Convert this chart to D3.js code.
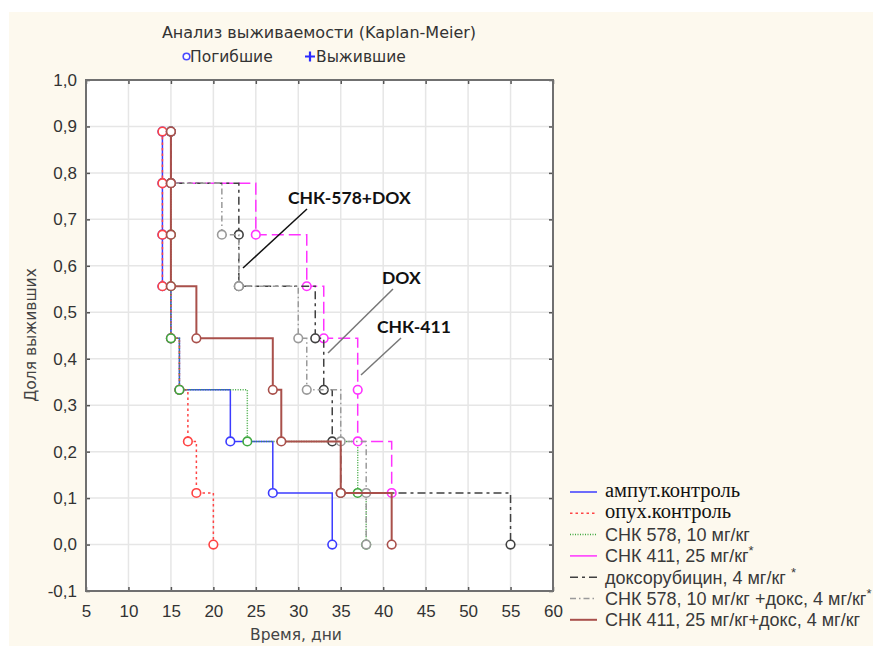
<!DOCTYPE html>
<html>
<head>
<meta charset="utf-8">
<script src="https://cdn.jsdelivr.net/npm/d3@7"></script>
<style>
  body { margin: 0; background: #fff; }
  svg { display: block; }
</style>
</head>
<body>
<svg id="chart"></svg>
<script>
// ---- data (death times, survival after each death) ----
let timesAmput = [14, 14, 14, 14, 15, 16, 22, 27, 34];
let survAmput = [0.889, 0.778, 0.667, 0.556, 0.444, 0.333, 0.222, 0.111, 0.0];

let timesOpuh = [14, 14, 14, 14, 15, 16, 17, 18, 20];
let survOpuh = [0.889, 0.778, 0.667, 0.556, 0.444, 0.333, 0.222, 0.111, 0.0];

let timesChk578 = [15, 15, 15, 15, 15, 16, 24, 37, 38];
let survChk578 = [0.889, 0.778, 0.667, 0.556, 0.444, 0.333, 0.222, 0.111, 0.0];

let timesChk411 = [15, 15, 25, 31, 33, 37, 37, 41];
let survChk411 = [0.889, 0.778, 0.667, 0.556, 0.444, 0.333, 0.222, 0.111];

let timesDox = [15, 15, 23, 23, 32, 33, 34, 35, 55];
let survDox = [0.889, 0.778, 0.667, 0.556, 0.444, 0.333, 0.222, 0.111, 0.0];

let timesChk578Dox = [15, 15, 21, 23, 30, 31, 35, 38, 38];
let survChk578Dox = [0.889, 0.778, 0.667, 0.556, 0.444, 0.333, 0.222, 0.111, 0.0];

let timesChk411Dox = [15, 15, 15, 15, 18, 27, 28, 35, 41];
let survChk411Dox = [0.889, 0.778, 0.667, 0.556, 0.444, 0.333, 0.222, 0.111, 0.0];

let xTicks = [5, 10, 15, 20, 25, 30, 35, 40, 45, 50, 55, 60];
let yTicks = [-0.1, 0.0, 0.1, 0.2, 0.3, 0.4, 0.5, 0.6, 0.7, 0.8, 0.9, 1.0];

let seriesNames = ["ампут.контроль", "опух.контроль", "СНК 578, 10 мг/кг", "СНК 411, 25 мг/кг",
  "доксорубицин, 4 мг/кг ", "СНК 578, 10 мг/кг +докс, 4 мг/кг", "СНК 411, 25 мг/кг+докс, 4 мг/кг"];
let seriesStar = [false, false, false, true, true, true, false];

let annotations = ["СНК-578+DOX", "DOX", "СНК-411"];

// ---- setup ----
let width = 873;
let height = 646;
let sans = "'Liberation Sans', Arial, sans-serif";
let wide = "'DejaVu Sans', Verdana, sans-serif";

let svg = d3.select("#chart")
    .attr("width", width)
    .attr("height", height);

// cream page background
svg.append("rect")
    .attr("x", 9).attr("y", 12)
    .attr("width", width - 9).attr("height", height - 12)
    .attr("fill", "#fdf9ee");

let scaleX = d3.scaleLinear().domain([5, 60]).range([86, 553]);
let scaleY = d3.scaleLinear().domain([-0.1, 1.0]).range([591, 80]);

// plot area
svg.append("rect")
    .attr("x", scaleX(5)).attr("y", scaleY(1))
    .attr("width", scaleX(60) - scaleX(5))
    .attr("height", scaleY(-0.1) - scaleY(1))
    .attr("fill", "#fff");

// grid
svg.append("g").selectAll("line").data(xTicks.slice(1, -1)).join("line")
    .attr("x1", d => scaleX(d)).attr("x2", d => scaleX(d))
    .attr("y1", scaleY(1)).attr("y2", scaleY(-0.1))
    .attr("stroke", "#e6e6e6").attr("stroke-width", 1.5);
svg.append("g").selectAll("line").data(yTicks.slice(1, -1)).join("line")
    .attr("y1", d => scaleY(d)).attr("y2", d => scaleY(d))
    .attr("x1", scaleX(5)).attr("x2", scaleX(60))
    .attr("stroke", "#e6e6e6").attr("stroke-width", 1.5);

let fmt = d => d3.format(".1f")(d).replace(".", ",").replace("−", "-");

let axisX = d3.axisBottom(scaleX).tickValues(xTicks).tickSize(-4).tickPadding(14).tickFormat(d => d);
let axisY = d3.axisLeft(scaleY).tickValues(yTicks).tickSize(-4).tickPadding(9).tickFormat(fmt);

function styleAxis(g) {
    g.select(".domain").remove();
    g.selectAll(".tick line").attr("stroke", "#555").attr("stroke-width", 1.5);
    g.selectAll(".tick text")
        .attr("fill", "#333")
        .style("font-family", sans)
        .style("font-size", "17px");
}

svg.append("g").attr("transform", `translate(0, ${scaleY(-0.1)})`).call(axisX).call(styleAxis);
svg.append("g").attr("transform", `translate(${scaleX(5)}, 0)`).call(axisY).call(styleAxis);
// ticks on top and right (inner)
svg.append("g").attr("transform", `translate(0, ${scaleY(1)})`)
    .call(d3.axisTop(scaleX).tickValues(xTicks).tickSize(-4).tickFormat(""))
    .call(styleAxis);
svg.append("g").attr("transform", `translate(${scaleX(60)}, 0)`)
    .call(d3.axisRight(scaleY).tickValues(yTicks).tickSize(-4).tickFormat(""))
    .call(styleAxis);

// frame
svg.append("rect")
    .attr("x", scaleX(5)).attr("y", scaleY(1))
    .attr("width", scaleX(60) - scaleX(5))
    .attr("height", scaleY(-0.1) - scaleY(1))
    .attr("fill", "none").attr("stroke", "#707070").attr("stroke-width", 2);

// axis titles
svg.append("text")
    .attr("transform", `translate(36, 335) rotate(-90)`)
    .attr("text-anchor", "middle")
    .attr("fill", "#444")
    .style("font-family", wide)
    .style("font-size", "15.5px")
    .text("Доля выживших");

svg.append("text")
    .attr("x", 296).attr("y", 640)
    .attr("text-anchor", "middle")
    .attr("fill", "#444")
    .style("font-family", wide)
    .style("font-size", "15.5px")
    .text("Время, дни");

// title + marker legend
svg.append("text")
    .attr("x", 319).attr("y", 38)
    .attr("text-anchor", "middle")
    .attr("fill", "#333")
    .style("font-family", wide)
    .style("font-size", "16px")
    .text("Анализ выживаемости (Kaplan-Meier)");

svg.append("circle")
    .attr("cx", 186.5).attr("cy", 56.5).attr("r", 3.3)
    .attr("fill", "#fff").attr("stroke", "#4a4aff").attr("stroke-width", 1.6);
svg.append("text")
    .attr("x", 190).attr("y", 61.5)
    .attr("fill", "#333")
    .style("font-family", wide)
    .style("font-size", "15.5px")
    .text("Погибшие");
svg.append("path")
    .attr("d", "M305,56.5H315M310,51.5V61.5")
    .attr("stroke", "#2a2aff").attr("stroke-width", 2.2);
svg.append("text")
    .attr("x", 316).attr("y", 61.5)
    .attr("fill", "#333")
    .style("font-family", wide)
    .style("font-size", "15.5px")
    .text("Выжившие");

// ---- curves ----
let series = [
    { times: timesAmput, surv: survAmput, color: "#3c3cff", dash: null, w: 1.5 },
    { times: timesOpuh, surv: survOpuh, color: "#ff4444", dash: "2.5,3", w: 1.5 },
    { times: timesChk578, surv: survChk578, color: "#3fa83f", dash: "1,1.5", w: 1.5 },
    { times: timesChk411, surv: survChk411, color: "#ff33ff", dash: "12,5", w: 1.5 },
    { times: timesDox, surv: survDox, color: "#404040", dash: "8,4,3,4", w: 1.5 },
    { times: timesChk578Dox, surv: survChk578Dox, color: "#9a9a9a", dash: "6,3,1.5,3", w: 1.5 },
    { times: timesChk411Dox, surv: survChk411Dox, color: "#a9504b", dash: null, w: 2 }
];

function stepPath(s) {
    let p = d3.path();
    p.moveTo(scaleX(s.times[0]), scaleY(s.surv[0]));
    for (let i = 1; i < s.times.length; i++) {
        p.lineTo(scaleX(s.times[i]), scaleY(s.surv[i - 1]));
        p.lineTo(scaleX(s.times[i]), scaleY(s.surv[i]));
    }
    return p.toString();
}

let curves = svg.append("g");
series.forEach(s => {
    let g = curves.append("g");
    g.append("path")
        .attr("d", stepPath(s))
        .attr("fill", "none")
        .attr("stroke", s.color)
        .attr("stroke-width", s.w)
        .attr("stroke-dasharray", s.dash);
    g.selectAll("circle").data(s.times.map((t, i) => [t, s.surv[i]])).join("circle")
        .attr("cx", d => scaleX(d[0]))
        .attr("cy", d => scaleY(d[1]))
        .attr("r", 4.3)
        .attr("fill", "#fff")
        .attr("stroke", s.color)
        .attr("stroke-width", 1.6);
});

// ---- annotations ----
let annFont = "Lato, 'Open Sans', sans-serif";
svg.append("line").attr("x1", 307).attr("y1", 209).attr("x2", 243).attr("y2", 268)
    .attr("stroke", "#111").attr("stroke-width", 1.5);
svg.append("line").attr("x1", 393).attr("y1", 289).attr("x2", 328).attr("y2", 353)
    .attr("stroke", "#777").attr("stroke-width", 1.5);
svg.append("line").attr("x1", 401).attr("y1", 338).attr("x2", 361).attr("y2", 375)
    .attr("stroke", "#777").attr("stroke-width", 1.5);

[[288, 204], [382, 284], [377, 333]].forEach((pos, i) => {
    svg.append("text")
        .attr("x", pos[0]).attr("y", pos[1])
        .attr("fill", "#111")
        .style("font-family", annFont)
        .style("font-weight", "bold")
        .style("font-size", "17.5px")
        .text(annotations[i]);
});

// ---- legend ----
let legend = svg.append("g");
seriesNames.forEach((name, i) => {
    let y = 492 + i * 21.3;
    let s = series[i];
    legend.append("line")
        .attr("x1", 570).attr("x2", 597)
        .attr("y1", y).attr("y2", y)
        .attr("stroke", s.color)
        .attr("stroke-width", s.w)
        .attr("stroke-dasharray", i == 3 ? null : s.dash);
    let serif = i < 2;
    let t = legend.append("text")
        .attr("x", 605).attr("y", y + (serif ? 5 : 6.5))
        .attr("fill", serif ? "#111" : "#3a3a3a")
        .style("font-family", serif ? "'Liberation Serif', 'Times New Roman', serif" : sans)
        .style("font-size", serif ? "20.5px" : "18px")
        .text(name);
    if (seriesStar[i]) {
        t.append("tspan")
            .attr("dy", -7)
            .style("font-size", "13px")
            .text("*");
    }
});
</script>
</body>
</html>
